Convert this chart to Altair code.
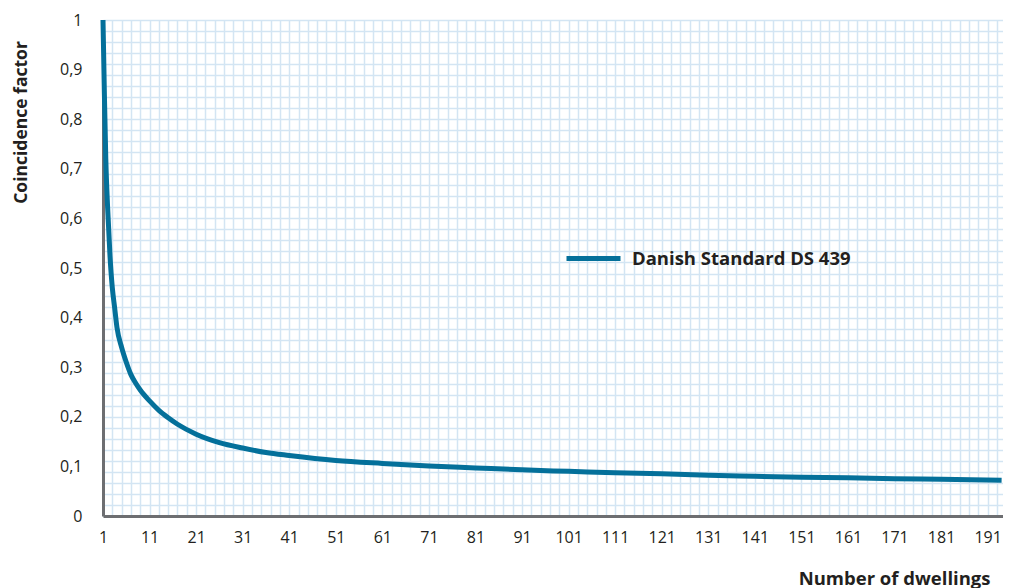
import altair as alt
import pandas as pd

# Values
dwellings = [1, 1.3, 1.6, 2, 2.5, 3, 3.5, 4, 5, 6, 7, 8, 9, 11, 13, 15, 17, 21, 26, 31, 36, 41,
             51, 61, 71, 81, 91, 101, 111, 121, 131, 141, 151, 161, 171, 181, 194]
factor = [1.0, 0.85, 0.72, 0.62, 0.525, 0.46, 0.42, 0.38, 0.34, 0.31, 0.285, 0.268, 0.254, 0.232,
          0.213, 0.198, 0.185, 0.165, 0.148, 0.137, 0.128, 0.122, 0.112, 0.106, 0.101, 0.097,
          0.093, 0.090, 0.087, 0.085, 0.082, 0.080, 0.078, 0.077, 0.075, 0.074, 0.072]
series_name = "Danish Standard DS 439"

x_tick_labels = list(range(1, 192, 10))
y_tick_labels = [round(k / 10, 1) for k in range(11)]

df = pd.DataFrame({"N": dwellings, "factor": factor, "series": series_name})

x_grid_vals = list(range(1, 196, 2))
y_grid_vals = [round(1 - k / 45, 5) for k in range(46)]

FONT = "Open Sans"
TEXT = "#231f20"
GRID = "#d3e5f3"
AXIS = "#6d6e71"
LINE = "#04709a"

xs = alt.Scale(domain=[1, 194.3], nice=False, zero=False)
ys = alt.Scale(domain=[0, 1], nice=False)

grid = alt.Chart(df).mark_line(opacity=0).encode(
    x=alt.X("N:Q", scale=xs, axis=alt.Axis(values=x_grid_vals, grid=True, gridColor=GRID,
                                            gridWidth=1.5, labels=False, ticks=False,
                                            domain=False, title=None, orient="bottom")),
    y=alt.Y("factor:Q", scale=ys, axis=alt.Axis(values=y_grid_vals, grid=True, gridColor=GRID,
                                                 gridWidth=1.5, labels=False, ticks=False,
                                                 domain=False, title=None, orient="left")),
)

curve = alt.Chart(df).mark_line(strokeWidth=5, interpolate="monotone").encode(
    x=alt.X("N:Q", scale=xs, axis=alt.Axis(
        values=x_tick_labels, grid=False, ticks=False, domainColor=AXIS, domainWidth=3,
        labelFont=FONT, labelFontSize=16, labelColor=TEXT, labelPadding=13,
        labelBaseline="top", labelFlush=False,
        title="Number of dwellings", titleFont=FONT, titleFontSize=18.5, titleFontWeight="bold",
        titleColor=TEXT, titleX=887, titleY=68, titleAlign="right", titleBaseline="alphabetic",
        orient="bottom")),
    y=alt.Y("factor:Q", scale=ys, axis=alt.Axis(
        values=y_tick_labels, grid=False, ticks=False, domainColor=AXIS, domainWidth=3,
        labelFont=FONT, labelFontSize=16, labelColor=TEXT, labelPadding=21,
        labelFlush=False,
        labelExpr="replace(format(datum.value, '.1~f'), '.', ',')",
        title="Coincidence factor", titleFont=FONT, titleFontSize=17.5, titleFontWeight="bold",
        titleColor=TEXT, titleX=-77, titleY=102, titleAlign="center", titleAngle=-90,
        titleBaseline="alphabetic", orient="left")),
    color=alt.Color("series:N", scale=alt.Scale(range=[LINE]), legend=alt.Legend(
        title=None, orient="none", legendX=461, legendY=209, symbolType="stroke",
        symbolSize=2916, symbolStrokeWidth=5, labelFont=FONT, labelFontSize=18.5,
        labelFontWeight="bold", labelColor=TEXT, labelOffset=9, labelLimit=0, padding=0)),
)

chart = alt.layer(grid, curve).resolve_axis(x="independent", y="independent").properties(
    width=900, height=496,
    padding={"left": 95, "top": 12, "right": 0, "bottom": 72},
    autosize=alt.AutoSizeParams(type="none"),
).configure_view(stroke=None)

chart.save("out.html", embed_options={"renderer": "svg", "actions": False})
